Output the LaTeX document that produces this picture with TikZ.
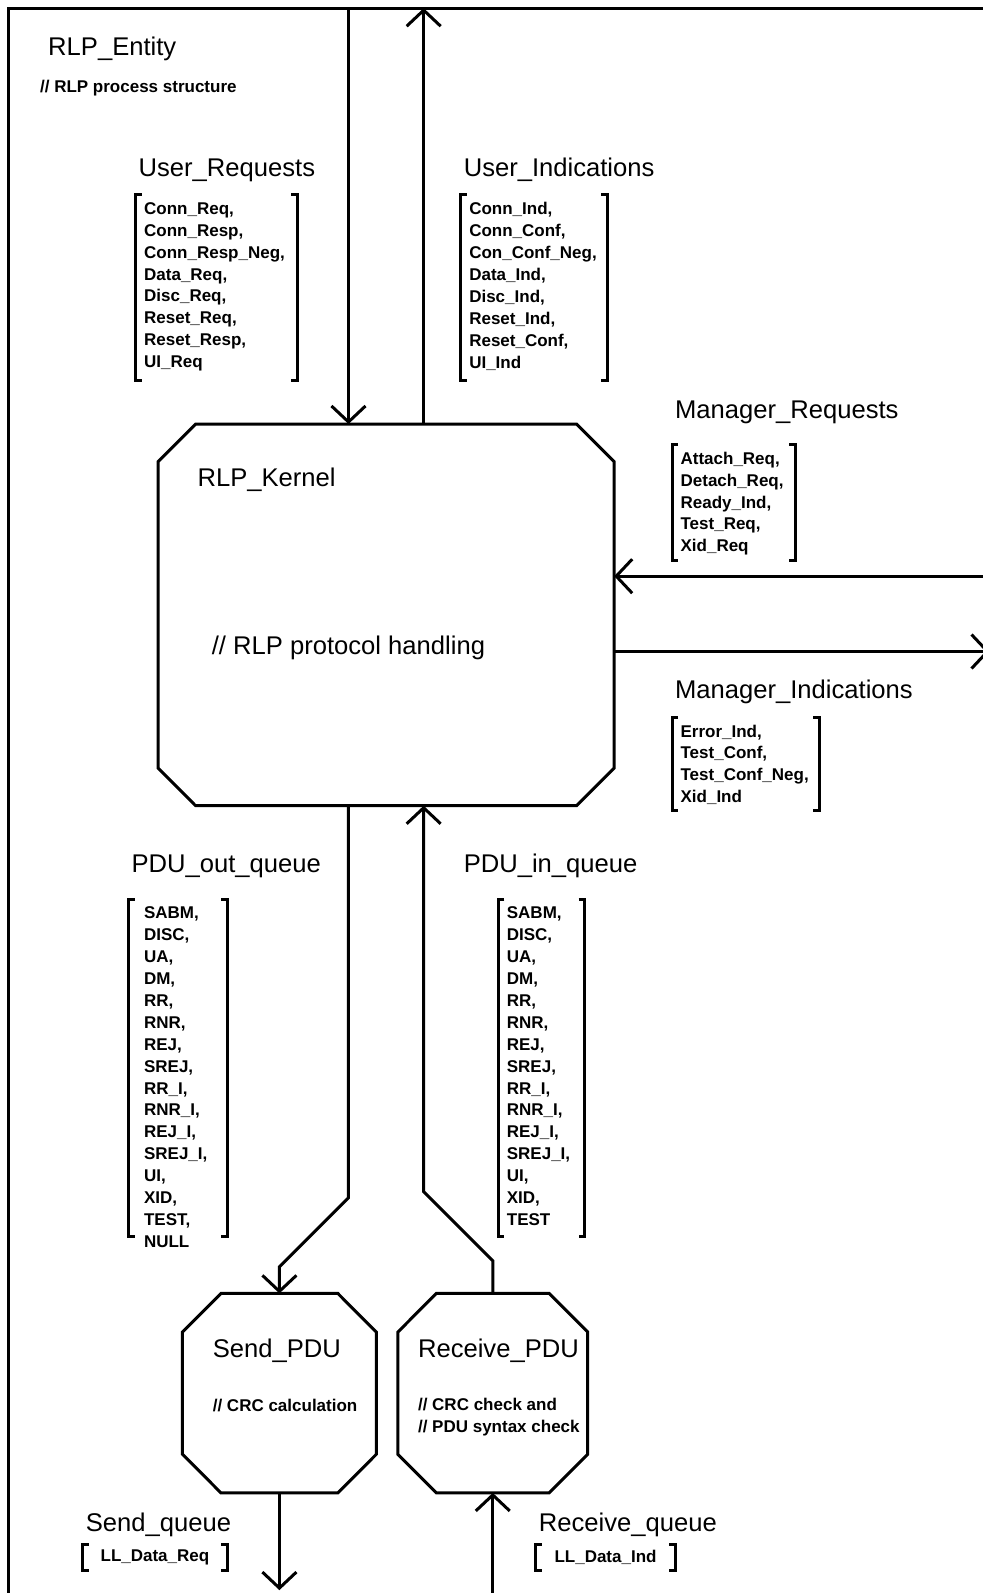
\documentclass[tikz,border=0pt]{standalone}
\usepackage{fontspec}
\setmainfont{Liberation Sans}
\usetikzlibrary{calc,positioning,arrows.meta,fit}

% outline of a process node: rectangle with cut corners
\newcommand{\octagon}[2]{%
  \draw [wire] ($(#1.north west)+(#2,0)$) -- ($(#1.north east)+(-#2,0)$)
    -- ($(#1.north east)+(0,#2)$) -- ($(#1.south east)+(0,-#2)$)
    -- ($(#1.south east)+(-#2,0)$) -- ($(#1.south west)+(#2,0)$)
    -- ($(#1.south west)+(0,-#2)$) -- ($(#1.north west)+(0,#2)$) -- cycle;}

% square brackets round a signal list
\newcommand{\brackets}[1]{%
  \draw [wire] ([xshift=3pt]#1.north west) -- (#1.north west)
    -- (#1.south west) -- ([xshift=3pt]#1.south west);
  \draw [wire] ([xshift=-3pt]#1.north east) -- (#1.north east)
    -- (#1.south east) -- ([xshift=-3pt]#1.south east);}

\begin{document}
\begin{tikzpicture}[x=0.508pt,y=-0.509pt,>={Straight Barb[length=8pt,width=17pt]},line width=1.5pt]
  \useasboundingbox (0pt,0pt) rectangle (491pt,-796.5pt);
  \tikzset{
    wire/.style={line width=1.5pt,line join=miter},
    process/.style={rectangle,inner sep=0pt},
    sigbox/.style={rectangle,inner sep=0pt},
    title/.style={anchor=west,inner sep=0pt,font=\fontsize{12.8}{15}\selectfont},
    comment/.style={anchor=west,inner sep=0pt,align=left,font=\bfseries\fontsize{8.5}{10.95}\selectfont},
    signals/.style={inner sep=0pt,align=left,font=\bfseries\fontsize{8.5}{10.95}\selectfont},
    listpos/.style={below right=3pt and 3.5pt of #1}
  }

  % Entity frame
  \draw [wire] (8,1593) -- (8,8) -- (982,8);
  \node [title] (entityName) at (46,48) {RLP\_Entity};
  \node [comment] (entityNote) at (38,87) {// RLP process structure};

  % Processes
  \node [process, fit={(157,418) (603,790)}] (kernel) {};
  \octagon{kernel}{37}
  \node [title] (kernelName) at (193,471) {RLP\_Kernel};
  \node [title] (kernelNote) at (207,636) {// RLP protocol handling};

  \node [process, fit={(181,1272) (369,1465)}] (sendPDU) {};
  \octagon{sendPDU}{38}
  \node [title] (sendName) at (208,1327) {Send\_PDU};
  \node [comment] (sendNote) at (208,1381) {// CRC calculation};

  \node [process, fit={(393,1272) (577,1465)}] (recvPDU) {};
  \octagon{recvPDU}{38}
  \node [title] (recvName) at (410,1327) {Receive\_PDU};
  \node [comment] (recvNote) at (410,1392) {// CRC check and\\// PDU syntax check};

  % User side
  \node [title] (urName) at (135,167) {User\_Requests};
  \node [sigbox, fit={(135,193) (291,372)}] (urBox) {};
  \brackets{urBox}
  \node [signals, listpos=urBox.north west] (urList)
    {Conn\_Req,\\Conn\_Resp,\\Conn\_Resp\_Neg,\\Data\_Req,\\Disc\_Req,\\Reset\_Req,\\Reset\_Resp,\\UI\_Req};

  \node [title] (uiName) at (455,167) {User\_Indications};
  \node [sigbox, fit={(455,193) (596,372)}] (uiBox) {};
  \brackets{uiBox}
  \node [signals, listpos=uiBox.north west] (uiList)
    {Conn\_Ind,\\Conn\_Conf,\\Con\_Conf\_Neg,\\Data\_Ind,\\Disc\_Ind,\\Reset\_Ind,\\Reset\_Conf,\\UI\_Ind};

  % Manager side
  \node [title] (mrName) at (663,405) {Manager\_Requests};
  \node [sigbox, fit={(663,438) (781,549)}] (mrBox) {};
  \brackets{mrBox}
  \node [signals, listpos=mrBox.north west] (mrList)
    {Attach\_Req,\\Detach\_Req,\\Ready\_Ind,\\Test\_Req,\\Xid\_Req};

  \node [title] (miName) at (663,680) {Manager\_Indications};
  \node [sigbox, fit={(663,706) (805,795)}] (miBox) {};
  \brackets{miBox}
  \node [signals, listpos=miBox.north west] (miList)
    {Error\_Ind,\\Test\_Conf,\\Test\_Conf\_Neg,\\Xid\_Ind};

  % PDU queues
  \node [title] (poName) at (128,851) {PDU\_out\_queue};
  \node [sigbox, fit={(128,885) (222,1213)}] (poBox) {};
  \brackets{poBox}
  \node [signals, below right=3pt and 7pt of poBox.north west] (poList)
    {SABM,\\DISC,\\UA,\\DM,\\RR,\\RNR,\\REJ,\\SREJ,\\RR\_I,\\RNR\_I,\\REJ\_I,\\SREJ\_I,\\UI,\\XID,\\TEST,\\NULL};

  \node [title] (piName) at (455,851) {PDU\_in\_queue};
  \node [sigbox, fit={(492,885) (574,1213)}] (piBox) {};
  \brackets{piBox}
  \node [signals, listpos=piBox.north west] (piList)
    {SABM,\\DISC,\\UA,\\DM,\\RR,\\RNR,\\REJ,\\SREJ,\\RR\_I,\\RNR\_I,\\REJ\_I,\\SREJ\_I,\\UI,\\XID,\\TEST};

  % Lower layer queues
  \node [title] (sqName) at (83,1498) {Send\_queue};
  \node [sigbox, fit={(83,1519) (222,1541)}] (sqBox) {};
  \brackets{sqBox}
  \node [signals] (sqList) at (sqBox) {LL\_Data\_Req};

  \node [title] (rqName) at (529,1498) {Receive\_queue};
  \node [sigbox, fit={(529,1519) (663,1541)}] (rqBox) {};
  \brackets{rqBox}
  \node [signals] (rqList) at (rqBox) {LL\_Data\_Ind};

  % Channels
  \coordinate (urEnd) at (343,8);
  \coordinate (uiEnd) at (417,8);
  \coordinate (mrEnd) at (982,566);
  \coordinate (miEnd) at (974,640);
  \coordinate (sqEnd) at (275,1562);
  \coordinate (rqEnd) at (485,1593);

  \draw [wire,->] (urEnd) -- (urEnd |- kernel.north);
  \draw [wire,->] (uiEnd |- kernel.north) -- (uiEnd);
  \draw [wire,->] (mrEnd) -- (mrEnd -| kernel.east);
  \draw [wire,->] (miEnd -| kernel.east) -- (miEnd);

  \draw [wire,->] (kernel.south -| urEnd) -- ++(0,385) -- ++(-68,68) -- (sendPDU.north);
  \draw [wire,->] (recvPDU.north) -- ++(0,-32) -- ++(-68,-68) -- (kernel.south -| uiEnd);

  \draw [wire,->] (sendPDU.south) -- (sqEnd);
  \draw [wire,->] (rqEnd) -- (recvPDU.south);

\end{tikzpicture}
\end{document}
